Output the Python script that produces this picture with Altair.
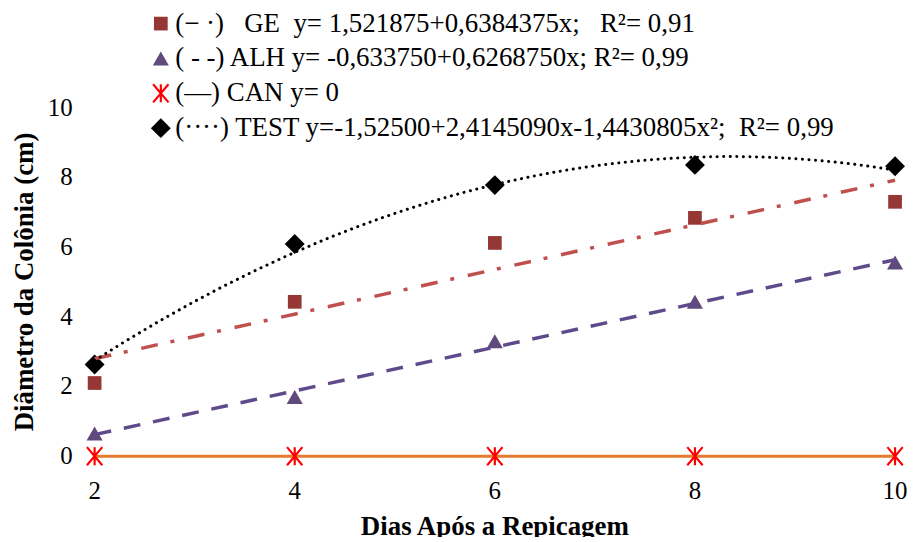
import altair as alt
import pandas as pd

# ---- data ----
days = [2, 4, 6, 8, 10]
ge = [2.10, 4.43, 6.12, 6.84, 7.30]
alh = [0.65, 1.70, 3.30, 4.43, 5.56]
can = [0.0, 0.0, 0.0, 0.0, 0.0]
test = [2.63, 6.09, 7.78, 8.36, 8.32]

x_ticks = [2, 4, 6, 8, 10]
x_tick_labels = ["2", "4", "6", "8", "10"]
y_ticks = [0, 2, 4, 6, 8, 10]
y_tick_labels = ["0", "2", "4", "6", "8", "10"]
x_title = "Dias Após a Repicagem"
y_title = "Diâmetro da Colônia (cm)"

NB = "\u00a0"
labels = [
    f"(− ·){NB}{NB}{NB}GE{NB}{NB}y= 1,521875+0,6384375x;{NB}{NB}{NB}R²= 0,91",
    "( - -) ALH y= -0,633750+0,6268750x; R²= 0,99",
    "(—) CAN y= 0",
    f"(····) TEST y=-1,52500+2,4145090x-1,4430805x²;{NB}{NB}R²= 0,99",
]
series_keys = ["GE", "ALH", "CAN", "TEST"]
marker_colors = ["#953735", "#604A7B", "#FF0000", "#000000"]
line_colors = ["#C0504D", "#5F4B8B", "#E47B2E", "#000000"]

asterisk = (
    "M-0.12,-1L0.12,-1L0.12,1L-0.12,1Z"
    "M-0.759,-1.078L0.941,0.922L0.759,1.078L-0.941,-0.922Z"
    "M0.941,-0.922L-0.759,1.078L-0.941,0.922L0.759,-1.078Z"
)
shapes = ["square", "triangle-up", asterisk, "diamond"]
sizes = [190, 400, 250, 289]

rows = []
for key, lab, vals in zip(series_keys, labels, [ge, alh, can, test]):
    for d, v in zip(days, vals):
        rows.append({"serie": key, "label": lab, "dias": d, "diam": v})
df = pd.DataFrame(rows)

FONT = "serif"
W, H = 804, 350

x_scale = alt.Scale(domain=[2, 10], nice=False, zero=False)
y_scale = alt.Scale(domain=[0, 10], nice=False)

x_enc = alt.X(
    "dias:Q",
    scale=x_scale,
    axis=alt.Axis(
        title=None, labels=False, ticks=False, values=x_ticks,
        domainColor="black", grid=False,
    ),
)
y_enc = alt.Y(
    "diam:Q",
    scale=y_scale,
    axis=alt.Axis(
        title=None, labels=False, values=y_ticks, tickSize=7,
        tickColor="black", domainColor="black", grid=False,
    ),
)

base = alt.Chart(df)

legend = alt.Legend(
    title=None,
    orient="none",
    legendX=53,
    legendY=-98,
    direction="vertical",
    labelFont=FONT,
    labelFontSize=27,
    labelColor="black",
    labelLimit=900,
    symbolSize=169,
    symbolStrokeWidth=0,
    rowPadding=7,
    padding=0,
    labelOffset=1,
)

points = base.mark_point(filled=True, opacity=1).encode(
    x=x_enc,
    y=y_enc,
    color=alt.Color("label:N", scale=alt.Scale(domain=labels, range=marker_colors), legend=legend),
    shape=alt.Shape("label:N", scale=alt.Scale(domain=labels, range=shapes), legend=legend),
    size=alt.Size("label:N", scale=alt.Scale(domain=labels, range=sizes), legend=None),
)

def trend(key, color, dash, width, method="linear", order=None, cap="butt"):
    kw = dict(method=method, extent=[2, 10])
    if order is not None:
        kw["order"] = order
    return (
        base.transform_filter(alt.datum.serie == key)
        .transform_regression("dias", "diam", **kw)
        .mark_line(color=color, strokeDash=dash, strokeWidth=width, strokeCap=cap)
        .encode(x=x_enc, y=y_enc)
    )

can_line = trend("CAN", line_colors[2], [1, 0], 3)
ge_line = trend("GE", line_colors[0], [17, 13, 4, 14], 3.5)
alh_line = trend("ALH", line_colors[1], [17, 13], 3.5)
test_line = trend("TEST", line_colors[3], [0.1, 6.5], 3, method="poly", order=2, cap="round")

# axis texts as text marks (tick labels placed through the same scales)
x_lab = alt.Chart(pd.DataFrame({"dias": x_ticks, "t": x_tick_labels})).mark_text(
    font=FONT, fontSize=25, color="black", align="center", baseline="middle"
).encode(x=alt.X("dias:Q", scale=x_scale, axis=None), y=alt.value(H + 35), text="t:N")

y_lab = alt.Chart(pd.DataFrame({"diam": y_ticks, "t": y_tick_labels})).mark_text(
    font=FONT, fontSize=25, color="black", align="right", baseline="middle"
).encode(y=alt.Y("diam:Q", scale=y_scale, axis=None), x=alt.value(-22), text="t:N")

x_tit = alt.Chart(pd.DataFrame({"t": [x_title]})).mark_text(
    font=FONT, fontSize=27, fontWeight="bold", color="black",
    align="center", baseline="alphabetic"
).encode(x=alt.value(W / 2), y=alt.value(H + 79), text="t:N")

y_tit = alt.Chart(pd.DataFrame({"t": [y_title]})).mark_text(
    font=FONT, fontSize=27, fontWeight="bold", color="black",
    align="center", baseline="middle", angle=270
).encode(x=alt.value(-70), y=alt.value(H / 2), text="t:N")

chart = (
    alt.layer(can_line, points, ge_line, alh_line, test_line, x_lab, y_lab, x_tit, y_tit)
    .properties(
        width=W,
        height=H,
        autosize=alt.AutoSizeParams(type="none"),
        padding={"left": 87, "top": 99, "right": 12, "bottom": 80},
    )
    .configure_view(stroke=None)
)

chart.save("out.html", embed_options={"renderer": "svg", "actions": False})
